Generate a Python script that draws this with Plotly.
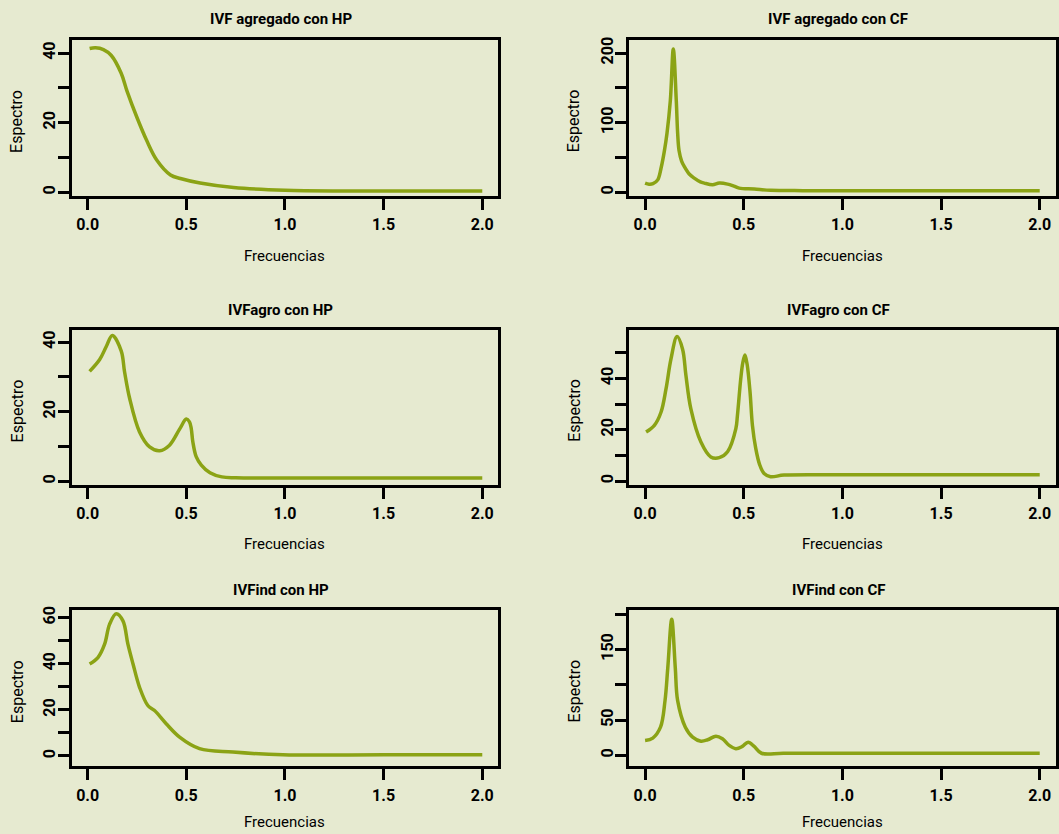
import plotly.graph_objects as go

# ---------------- data ----------------
freq_agr_hp = [0.01, 0.04, 0.08, 0.12, 0.17, 0.20, 0.25, 0.30, 0.35, 0.42, 0.47, 0.57, 0.74, 1.0, 1.3, 1.6, 2.0]
esp_agr_hp = [41.3, 41.5, 41.0, 39.3, 34.2, 29.0, 21.5, 14.8, 9.3, 5.0, 4.0, 2.7, 1.4, 0.6, 0.4, 0.4, 0.4]

freq_agr_cf = [0.0, 0.02, 0.04, 0.064, 0.081, 0.098, 0.111, 0.128, 0.143, 0.158, 0.165, 0.172, 0.185, 0.199,
               0.225, 0.249, 0.28, 0.30, 0.342, 0.376, 0.418, 0.45, 0.477, 0.553, 0.636, 0.8, 1.0, 1.5, 2.0]
esp_agr_cf = [13.3, 11.8, 12.5, 18, 35, 60, 85, 132, 206, 132, 85, 60, 45, 37,
              26, 20.4, 15, 13.3, 10.9, 13.3, 11.9, 9, 6.1, 4.7, 2.9, 2.5, 2.4, 2.4, 2.4]

freq_agro_hp = [0.01, 0.061, 0.095, 0.125, 0.17, 0.187, 0.213, 0.263, 0.314, 0.365, 0.415, 0.466, 0.50,
                0.516, 0.525, 0.533, 0.55, 0.576, 0.62, 0.68, 0.75, 1.0, 1.5, 2.0]
esp_agro_hp = [31.6, 35.0, 38.8, 41.9, 37.5, 31.5, 23.8, 14.2, 9.9, 8.8, 10.4, 15.0, 17.9,
               17.1, 15.2, 11.4, 7.1, 4.7, 2.5, 1.3, 1.05, 1.0, 1.0, 1.0]

freq_agro_cf = [0.005, 0.047, 0.081, 0.106, 0.131, 0.162, 0.19, 0.207, 0.232, 0.283, 0.333, 0.376, 0.418,
                0.46, 0.468, 0.485, 0.495, 0.506, 0.517, 0.532, 0.544, 0.561, 0.58, 0.603, 0.636, 0.704,
                1.0, 1.5, 2.0]
esp_agro_cf = [19.1, 21.7, 26.9, 35.9, 47.5, 56.3, 51.4, 41.1, 28.1, 15.2, 9.4, 9.1, 11.4,
               20.4, 25.6, 40.0, 46.0, 49.1, 45.5, 34.6, 21.7, 12.6, 6.5, 2.9, 1.7, 2.3,
               2.4, 2.4, 2.4]

freq_ind_hp = [0.01, 0.052, 0.086, 0.111, 0.145, 0.179, 0.204, 0.23, 0.263, 0.305, 0.339, 0.398, 0.466,
               0.567, 0.736, 0.99, 1.5, 2.0]
esp_ind_hp = [39.9, 42.7, 48.5, 57.1, 61.7, 58.6, 48.5, 39.9, 29.8, 21.9, 19.7, 14.0, 8.2,
              3.2, 1.7, 0.5, 0.5, 0.5]

freq_ind_cf = [0.0, 0.039, 0.078, 0.101, 0.115, 0.135, 0.153, 0.165, 0.204, 0.241, 0.283, 0.317, 0.359,
               0.392, 0.426, 0.46, 0.493, 0.522, 0.553, 0.59, 0.7, 1.0, 1.5, 2.0]
esp_ind_cf = [21.1, 24.5, 39.9, 77.5, 124, 192.5, 124, 77.5, 39.9, 25.8, 20.1, 22.1, 27.2,
              23.5, 14.1, 9.4, 12.7, 18.7, 12.7, 3.0, 3.0, 3.0, 3.0, 3.0]

titles = ["IVF agregado con HP", "IVF agregado con CF",
          "IVFagro con HP", "IVFagro con CF",
          "IVFind con HP", "IVFind con CF"]
x_label = "Frecuencias"
y_label = "Espectro"

x_tickvals = [0, 0.5, 1.0, 1.5, 2.0]
x_ticktext = ["0.0", "0.5", "1.0", "1.5", "2.0"]

y_tickvals = [
    [0, 10, 20, 30, 40],
    [0, 50, 100, 150, 200],
    [0, 10, 20, 30, 40],
    [0, 10, 20, 30, 40, 50],
    [0, 10, 20, 30, 40, 50, 60],
    [0, 50, 100, 150, 200],
]
y_ticktext = [
    ["0", "", "20", "", "40"],
    ["0", "", "100", "", "200"],
    ["0", "", "20", "", "40"],
    ["0", "", "20", "", "40", ""],
    ["0", "", "20", "", "40", "", "60"],
    ["0", "50", "", "150", ""],
]

series = [
    (freq_agr_hp, esp_agr_hp),
    (freq_agr_cf, esp_agr_cf),
    (freq_agro_hp, esp_agro_hp),
    (freq_agro_cf, esp_agro_cf),
    (freq_ind_hp, esp_ind_hp),
    (freq_ind_cf, esp_ind_cf),
]

# ---------------- layout geometry (pixels) ----------------
W, H = 1059, 834
col_px = [(72, 499), (630.5, 1057.5)]
row_px = [(36, 193), (327.5, 483.3), (609, 766)]
xtitle_py = [253, 543, 822]
y_ranges = [
    [-1.06, 43.8],
    [-5.3, 219],
    [-1.03, 43.5],
    [-1.55, 58.9],
    [-4.5, 63.3],
    [-15.5, 205.6],
]
x_range = [-0.08, 2.08]

BG = "#e6ead0"
LINE = "#8ba315"
FONT = "Roboto, Liberation Sans, sans-serif"

fig = go.Figure()
layout = dict(
    width=W, height=H,
    margin=dict(l=0, r=0, t=0, b=0),
    paper_bgcolor=BG, plot_bgcolor=BG,
    showlegend=False,
    font=dict(family=FONT, color="black"),
)
annotations = []

for i, (xs, ys) in enumerate(series):
    r, c = divmod(i, 2)
    x0, x1 = col_px[c]
    top, bot = row_px[r]
    xd = [x0 / W, x1 / W]
    yd = [1 - bot / H, 1 - top / H]
    k = "" if i == 0 else str(i + 1)
    fig.add_trace(go.Scatter(
        x=xs, y=ys, mode="lines",
        line=dict(color=LINE, width=3.5, shape="spline", smoothing=1.0),
        xaxis="x" + k, yaxis="y" + k, hoverinfo="skip",
    ))
    common = dict(
        showgrid=False, zeroline=False,
        showline=True, linecolor="black", linewidth=3, mirror=True,
        ticks="outside", ticklen=11, tickwidth=3, tickcolor="black",
        fixedrange=True,
    )
    layout["xaxis" + k] = dict(
        common, domain=xd, range=x_range, anchor="y" + k,
        tickmode="array", tickvals=x_tickvals, ticktext=x_ticktext,
        tickfont=dict(family=FONT, size=16, color="black", weight="bold"),
        ticklabelstandoff=1,
    )
    layout["yaxis" + k] = dict(
        common, domain=yd, range=y_ranges[i], anchor="x" + k,
        tickmode="array", tickvals=y_tickvals[i], ticktext=y_ticktext[i],
        tickfont=dict(family=FONT, size=16, color="black", weight="bold"),
        tickangle=-90, ticklabelstandoff=-4,
    )
    cx = (x0 + x1) / 2
    # panel title
    annotations.append(dict(
        text="<b>" + titles[i] + "</b>", x=(cx - 4) / W, y=1 - (top - 20.5) / H,
        xref="paper", yref="paper", xanchor="center", yanchor="middle",
        showarrow=False, font=dict(family=FONT, size=15, color="black"),
    ))
    # x axis title
    annotations.append(dict(
        text=x_label, x=cx / W, y=1 - xtitle_py[r] / H,
        xref="paper", yref="paper", xanchor="center", yanchor="middle",
        showarrow=False, font=dict(family=FONT, size=15, color="black"),
    ))
    # y axis title
    annotations.append(dict(
        text=y_label, x=(x0 - 55) / W, y=1 - ((top + bot) / 2 + 3) / H,
        xref="paper", yref="paper", xanchor="center", yanchor="middle",
        textangle=-90,
        showarrow=False, font=dict(family=FONT, size=16, color="black"),
    ))

layout["annotations"] = annotations
fig.update_layout(**layout)
fig.write_html("out.html", config={"displayModeBar": False},
               post_script="document.body.style.margin='0px';")
